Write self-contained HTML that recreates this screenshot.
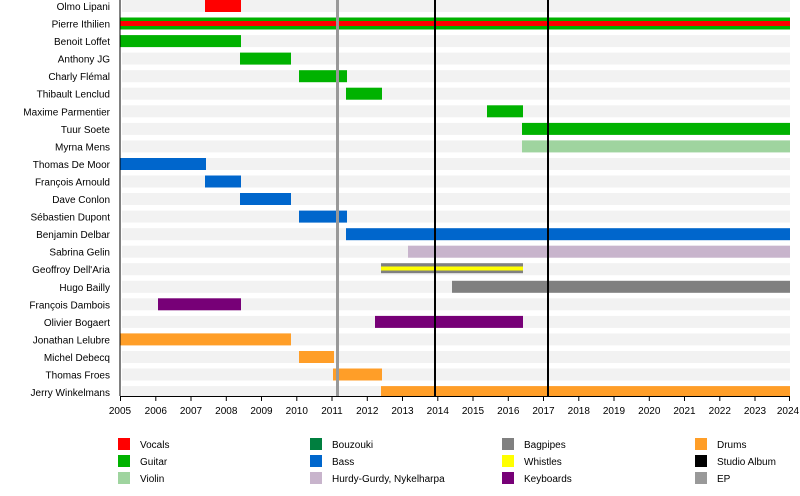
<!DOCTYPE html><html><head><meta charset="utf-8"><style>body{margin:0;background:#fff}svg{display:block;font-family:"Liberation Sans",sans-serif}</style></head><body>
<svg width="800" height="496" viewBox="0 0 800 496">
<g fill="#f2f2f2">
<rect x="122" y="0" width="668" height="12"/><rect x="122" y="17.5" width="668" height="12"/><rect x="122" y="35.1" width="668" height="12"/><rect x="122" y="52.6" width="668" height="12"/><rect x="122" y="70.2" width="668" height="12"/><rect x="122" y="87.7" width="668" height="12"/><rect x="122" y="105.3" width="668" height="12"/><rect x="122" y="122.9" width="668" height="12"/><rect x="122" y="140.4" width="668" height="12"/><rect x="122" y="158" width="668" height="12"/><rect x="122" y="175.5" width="668" height="12"/><rect x="122" y="193" width="668" height="12"/><rect x="122" y="210.6" width="668" height="12"/><rect x="122" y="228.2" width="668" height="12"/><rect x="122" y="245.7" width="668" height="12"/><rect x="122" y="263.2" width="668" height="12"/><rect x="122" y="280.8" width="668" height="12"/><rect x="122" y="298.3" width="668" height="12"/><rect x="122" y="315.9" width="668" height="12"/><rect x="122" y="333.4" width="668" height="12"/><rect x="122" y="351" width="668" height="12"/><rect x="122" y="368.5" width="668" height="12"/><rect x="122" y="386.1" width="668" height="10"/>
</g>
<rect x="205" y="0" width="36" height="12" fill="#ff0000"/>
<rect x="120" y="17.5" width="670" height="12" fill="#00b200"/>
<rect x="120" y="21" width="670" height="5" fill="#ff0000"/>
<g fill="#00b200">
<rect x="120" y="35.1" width="121" height="12"/><rect x="240" y="52.6" width="51" height="12"/><rect x="299" y="70.2" width="48" height="12"/><rect x="346" y="87.7" width="36" height="12"/><rect x="487" y="105.3" width="36" height="12"/><rect x="522" y="122.9" width="268" height="12"/>
</g>
<rect x="522" y="140.4" width="268" height="12" fill="#9fd49f"/>
<g fill="#0066cc">
<rect x="120" y="158" width="86" height="12"/><rect x="205" y="175.5" width="36" height="12"/><rect x="240" y="193" width="51" height="12"/><rect x="299" y="210.6" width="48" height="12"/><rect x="346" y="228.2" width="444" height="12"/>
</g>
<rect x="408" y="245.7" width="382" height="12" fill="#c8b4cc"/>
<rect x="381" y="263.2" width="142" height="10" fill="#808080"/>
<rect x="381" y="266.5" width="142" height="4" fill="#ffff00"/>
<rect x="452" y="280.8" width="338" height="12" fill="#808080"/>
<g fill="#770077"><rect x="158" y="298.3" width="83" height="12"/><rect x="375" y="315.9" width="148" height="12"/></g>
<g fill="#ff9e28"><rect x="120" y="333.4" width="171" height="12"/><rect x="299" y="351" width="35" height="12"/><rect x="333" y="368.5" width="49" height="12"/><rect x="381" y="386.1" width="409" height="10"/></g>
<rect x="336" y="0" width="3" height="396" fill="#999"/>
<rect x="434" y="0" width="2" height="396" fill="#000"/>
<rect x="547" y="0" width="2" height="396" fill="#000"/>
<line x1="120" y1="0" x2="120" y2="396" stroke="#000"/>
<line x1="120" y1="396.5" x2="790" y2="396.5" stroke="#000"/>
<g stroke="#000">
<line x1="120.5" y1="396" x2="120.5" y2="401"/><line x1="155.8" y1="396" x2="155.8" y2="401"/><line x1="191" y1="396" x2="191" y2="401"/><line x1="226.3" y1="396" x2="226.3" y2="401"/><line x1="261.5" y1="396" x2="261.5" y2="401"/><line x1="296.8" y1="396" x2="296.8" y2="401"/><line x1="332" y1="396" x2="332" y2="401"/><line x1="367.3" y1="396" x2="367.3" y2="401"/><line x1="402.5" y1="396" x2="402.5" y2="401"/><line x1="437.8" y1="396" x2="437.8" y2="401"/><line x1="473" y1="396" x2="473" y2="401"/><line x1="508.3" y1="396" x2="508.3" y2="401"/><line x1="543.5" y1="396" x2="543.5" y2="401"/><line x1="578.8" y1="396" x2="578.8" y2="401"/><line x1="614" y1="396" x2="614" y2="401"/><line x1="649.3" y1="396" x2="649.3" y2="401"/><line x1="684.5" y1="396" x2="684.5" y2="401"/><line x1="719.8" y1="396" x2="719.8" y2="401"/><line x1="755" y1="396" x2="755" y2="401"/><line x1="789.5" y1="396" x2="789.5" y2="401"/>
</g>
<g font-size="10" text-anchor="middle" fill="#000">
<text x="120" y="414">2005</text><text x="155.8" y="414">2006</text><text x="191" y="414">2007</text><text x="226.3" y="414">2008</text><text x="261.5" y="414">2009</text><text x="296.8" y="414">2010</text><text x="332" y="414">2011</text><text x="367.3" y="414">2012</text><text x="402.5" y="414">2013</text><text x="437.8" y="414">2014</text><text x="473" y="414">2015</text><text x="508.3" y="414">2016</text><text x="543.5" y="414">2017</text><text x="578.8" y="414">2018</text><text x="614" y="414">2019</text><text x="649.3" y="414">2020</text><text x="684.5" y="414">2021</text><text x="719.8" y="414">2022</text><text x="755" y="414">2023</text><text x="788" y="414">2024</text>
</g>
<g font-size="10" text-anchor="end" fill="#000">
<text x="110" y="10">Olmo Lipani</text><text x="110" y="27.5">Pierre Ithilien</text><text x="110" y="45">Benoit Loffet</text><text x="110" y="62.6">Anthony JG</text><text x="110" y="80.2">Charly Flémal</text><text x="110" y="97.7">Thibault Lenclud</text><text x="110" y="115.3">Maxime Parmentier</text><text x="110" y="132.9">Tuur Soete</text><text x="110" y="150.4">Myrna Mens</text><text x="110" y="168">Thomas De Moor</text><text x="110" y="185.5">François Arnould</text><text x="110" y="203">Dave Conlon</text><text x="110" y="220.6">Sébastien Dupont</text><text x="110" y="238.2">Benjamin Delbar</text><text x="110" y="255.7">Sabrina Gelin</text><text x="110" y="273.2">Geoffroy Dell'Aria</text><text x="110" y="290.8">Hugo Bailly</text><text x="110" y="308.3">François Dambois</text><text x="110" y="325.9">Olivier Bogaert</text><text x="110" y="343.4">Jonathan Lelubre</text><text x="110" y="361">Michel Debecq</text><text x="110" y="378.5">Thomas Froes</text><text x="110" y="396">Jerry Winkelmans</text>
</g>
<g font-size="10" fill="#000">
<rect x="118" y="438" width="12" height="12" fill="#ff0000"/><text x="140" y="448">Vocals</text>
<rect x="118" y="455" width="12" height="12" fill="#00b200"/><text x="140" y="465">Guitar</text>
<rect x="118" y="472" width="12" height="12" fill="#9fd49f"/><text x="140" y="482">Violin</text>
<rect x="310" y="438" width="12" height="12" fill="#007f3f"/><text x="332" y="448">Bouzouki</text>
<rect x="310" y="455" width="12" height="12" fill="#0066cc"/><text x="332" y="465">Bass</text>
<rect x="310" y="472" width="12" height="12" fill="#c8b4cc"/><text x="332" y="482">Hurdy-Gurdy, Nykelharpa</text>
<rect x="502" y="438" width="12" height="12" fill="#808080"/><text x="524" y="448">Bagpipes</text>
<rect x="502" y="455" width="12" height="12" fill="#ffff00"/><text x="524" y="465">Whistles</text>
<rect x="502" y="472" width="12" height="12" fill="#770077"/><text x="524" y="482">Keyboards</text>
<rect x="695" y="438" width="12" height="12" fill="#ff9e28"/><text x="717" y="448">Drums</text>
<rect x="695" y="455" width="12" height="12" fill="#000"/><text x="717" y="465">Studio Album</text>
<rect x="695" y="472" width="12" height="12" fill="#999"/><text x="717" y="482">EP</text>
</g>
</svg>
</body></html>
